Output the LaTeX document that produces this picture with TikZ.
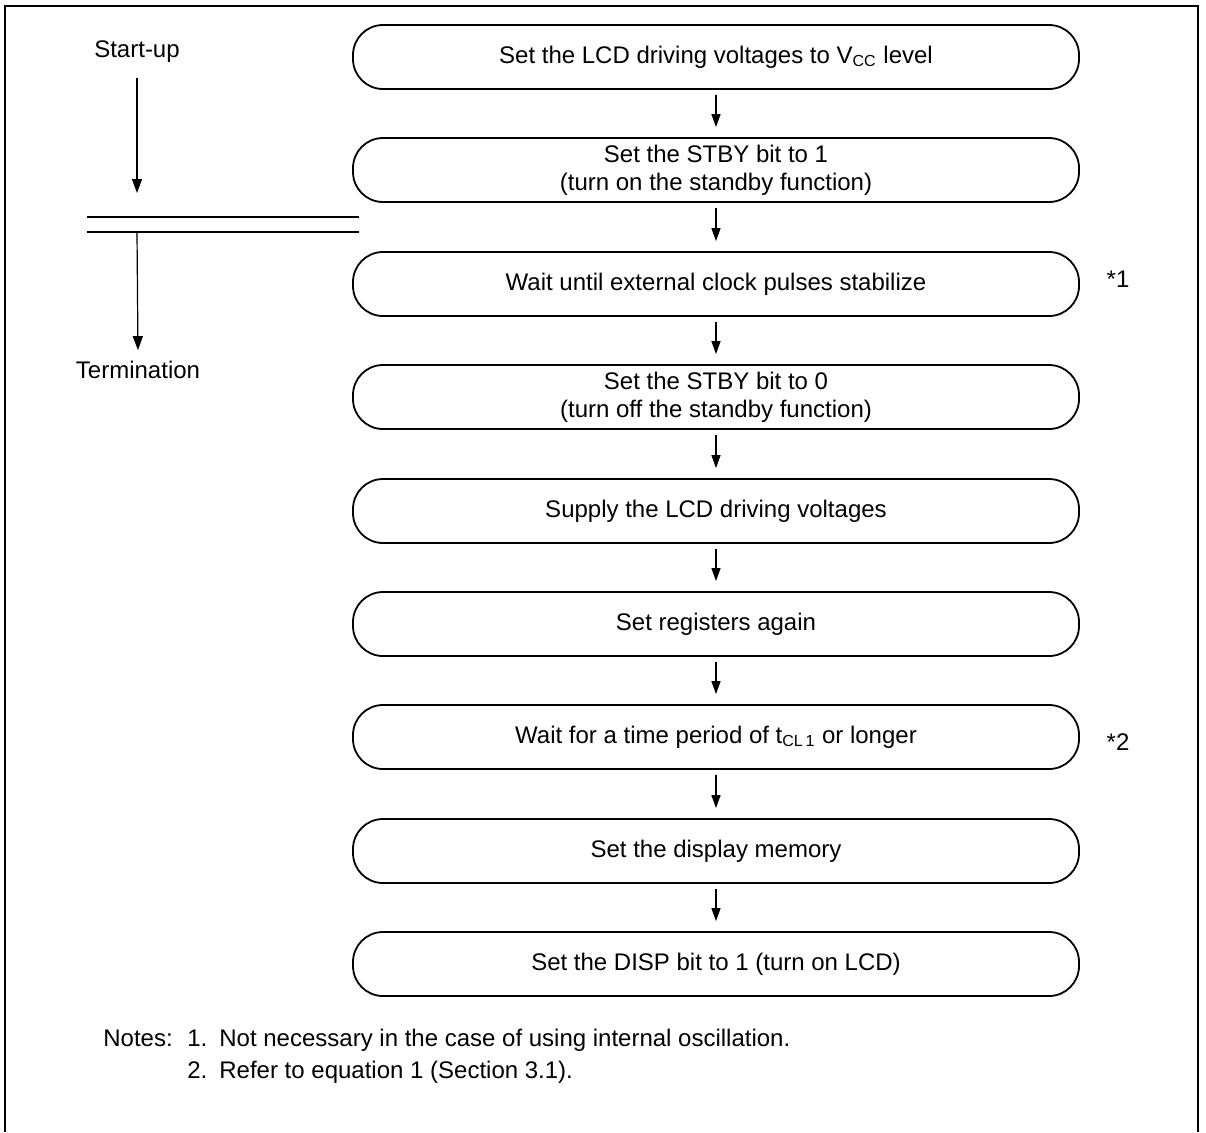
\documentclass[tikz,border=0pt]{standalone}
\usepackage{fontspec}
\setmainfont{Liberation Sans}
\usetikzlibrary{arrows.meta}

\begin{document}
\begin{tikzpicture}[x=0.5pt,y=-0.5pt,
  stepbox/.style={draw, line width=0.9pt, rounded corners=15pt, minimum width=363pt, minimum height=32pt, align=center, inner sep=2pt},
  flowarrow/.style={-{Triangle[length=6.5pt,width=4.5pt]}, line width=0.6pt, shorten <=2.5pt, shorten >=5pt},
  sidearrow/.style={-{Triangle[length=7pt,width=5pt]}, line width=0.6pt},
  every node/.style={font=\fontsize{12}{14}\selectfont}]
\useasboundingbox (0,0) rectangle (1206,1132);
\draw[line width=0.7pt] (5,1132) -- (5,6) -- (1198,6) -- (1198,1132);

\node[stepbox] (b1) at (716,57) {Set the LCD driving voltages to V\textsubscript{CC} level};
\node[stepbox] (b2) at (716,170) {Set the STBY bit to 1\\(turn on the standby function)};
\node[stepbox] (b3) at (716,284) {Wait until external clock pulses stabilize};
\node[stepbox] (b4) at (716,397) {Set the STBY bit to 0\\(turn off the standby function)};
\node[stepbox] (b5) at (716,511) {Supply the LCD driving voltages};
\node[stepbox] (b6) at (716,624) {Set registers again};
\node[stepbox] (b7) at (716,737) {Wait for a time period of t\textsubscript{CL\,1} or longer};
\node[stepbox] (b8) at (716,851) {Set the display memory};
\node[stepbox] (b9) at (716,964) {Set the DISP bit to 1 (turn on LCD)};

\draw[flowarrow] (b1) -- (b2);
\draw[flowarrow] (b2) -- (b3);
\draw[flowarrow] (b3) -- (b4);
\draw[flowarrow] (b4) -- (b5);
\draw[flowarrow] (b5) -- (b6);
\draw[flowarrow] (b6) -- (b7);
\draw[flowarrow] (b7) -- (b8);
\draw[flowarrow] (b8) -- (b9);

\node (star1) at (1118,279) {*1};
\node (star2) at (1118,742) {*2};

\node (startup) at (137,52) {Start-up};
\node (term) at (138,370) {Termination};
\coordinate (upstop) at (137,193);
\coordinate (lowsplit) at (137,232);
\draw[line width=0.6pt] (87,217) -- (359,217);
\draw[line width=0.6pt] (87,232) -- (359,232);
\draw[sidearrow, shorten <=4pt] (startup.south) -- (upstop);
\draw[sidearrow, shorten >=2pt] (lowsplit) -- (term.north);

\node[anchor=base west, inner sep=0pt] (notes) at (103,1046) {Notes:};
\node[anchor=base west, inner sep=0pt] (n1num) at (187,1046) {1.};
\node[anchor=base west, inner sep=0pt] (n1) at (219,1046) {Not necessary in the case of using internal oscillation.};
\node[anchor=base west, inner sep=0pt] (n2num) at (187,1078) {2.};
\node[anchor=base west, inner sep=0pt] (n2) at (219,1078) {Refer to equation 1 (Section 3.1).};
\end{tikzpicture}
\end{document}
